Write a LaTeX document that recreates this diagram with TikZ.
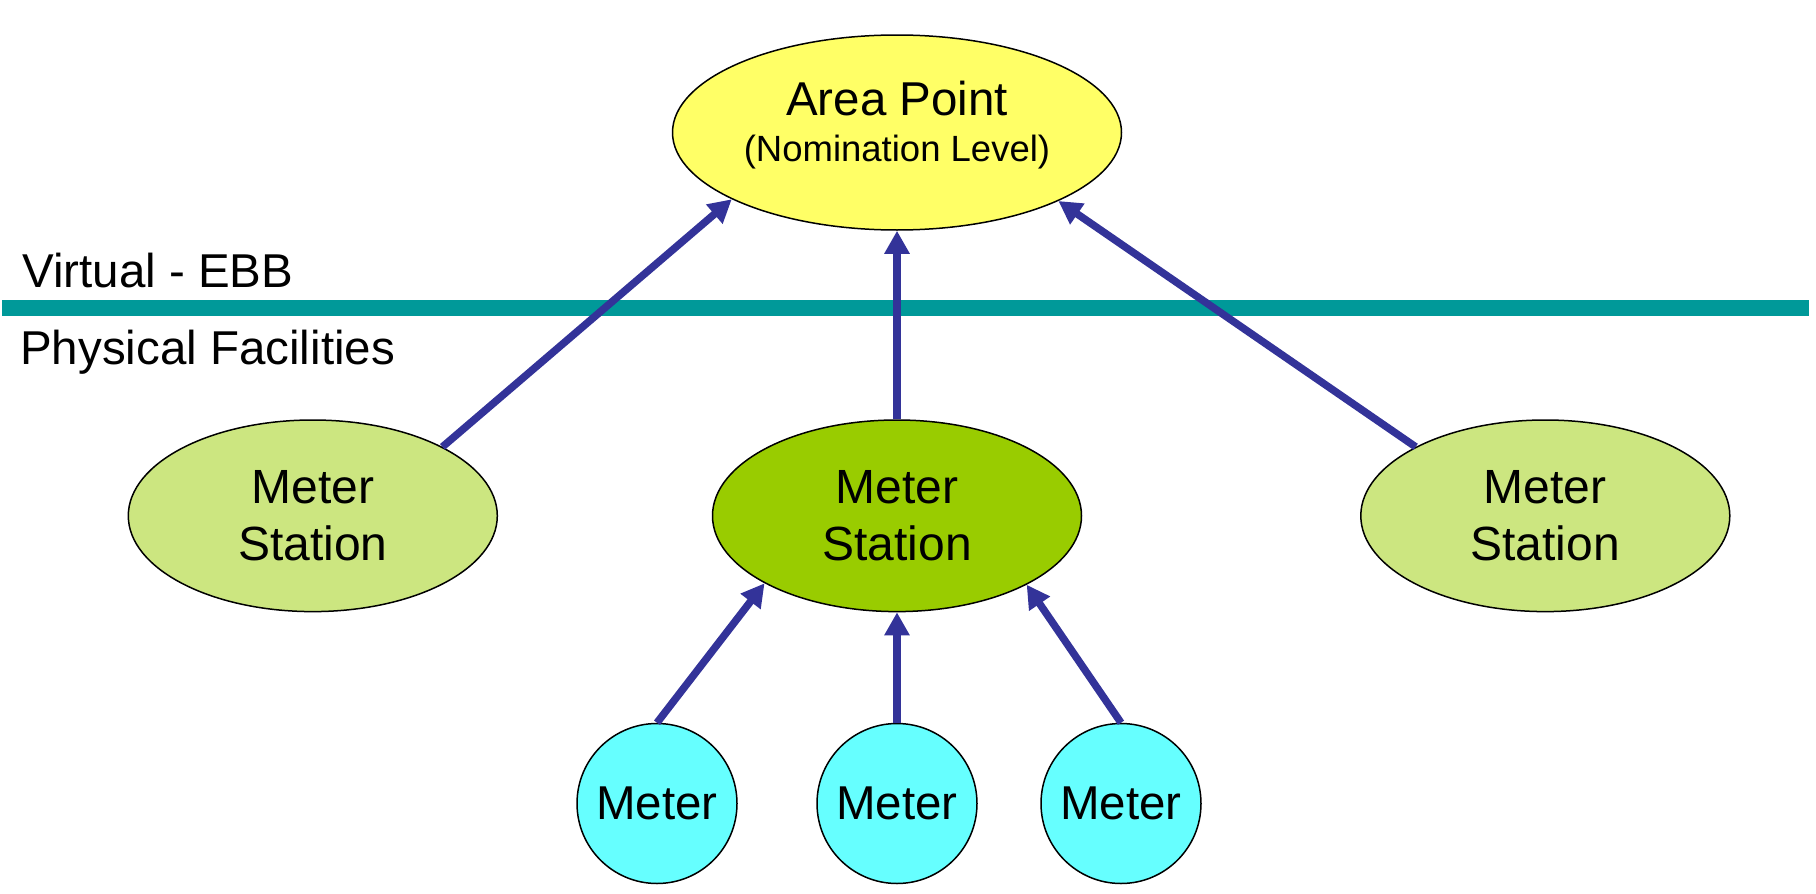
\documentclass[tikz,border=0pt]{standalone}
\usepackage{fontspec}
\setmainfont{Liberation Sans}
\usetikzlibrary{shapes.geometric,arrows.meta}
\definecolor{apfill}{HTML}{FFFF66}
\definecolor{mslight}{HTML}{CCE680}
\definecolor{msdark}{HTML}{99CC00}
\definecolor{meterfill}{HTML}{66FFFF}
\definecolor{arrowblue}{HTML}{333399}
\definecolor{tealline}{HTML}{009999}
\begin{document}
\begin{tikzpicture}[x=1pt,y=-1pt,
  shapeborder/.style={draw=black, line width=1.5pt, inner sep=0pt, align=center},
  apnode/.style={shapeborder, ellipse, fill=apfill, minimum width=449pt, minimum height=195pt,
     font=\fontsize{47.5}{46}\selectfont},
  msnode/.style={shapeborder, ellipse, minimum width=369pt, minimum height=191.6pt,
     font=\fontsize{48}{57}\selectfont},
  meternode/.style={shapeborder, circle, fill=meterfill, minimum size=160pt,
     font=\fontsize{47.5}{57}\selectfont},
  sidelabel/.style={anchor=base west, inner sep=0pt, font=\fontsize{47.5}{57}\selectfont},
  flow/.style={draw=arrowblue, line width=7.5pt, -{Triangle[length=23pt,width=24pt]}},
  divider/.style={draw=tealline, line width=16pt}
]
\useasboundingbox (0,0) rectangle (1816,894);

% divider line and side labels
\coordinate (divL) at (2,308);
\coordinate (divR) at (1809,308);
\draw[divider] (divL) -- (divR);
\node[sidelabel] (virt) at (22,287) {Virtual - EBB};
\node[sidelabel] (phys) at (20,364) {Physical Facilities};

% nodes
\node[apnode] (ap) at (897,132.5) {Area Point\\{\fontsize{36.5}{46}\selectfont (Nomination Level)}\rule[-22.7pt]{0pt}{22.7pt}};
\node[msnode, fill=mslight] (ms1) at (312.8,515.8) {Meter\\Station};
\node[msnode, fill=msdark]  (ms2) at (897,515.8) {Meter\\Station};
\node[msnode, fill=mslight] (ms3) at (1545.3,515.8) {Meter\\Station};
\node[meternode] (m1) at (657,803.5) {Meter};
\node[meternode] (m2) at (897,803.5) {Meter};
\node[meternode] (m3) at (1121,803.5) {Meter};

% connectors
\draw[flow] (ms1.28) -- (ap.202.5);
\draw[flow] (ms2.north) -- (ap.south);
\draw[flow] (ms3.152) -- (ap.337.5);
\draw[flow] (m1.north) -- (ms2.207.6);
\draw[flow] (m2.north) -- (ms2.south);
\draw[flow] (m3.north) -- (ms2.332.4);
\end{tikzpicture}
\end{document}
